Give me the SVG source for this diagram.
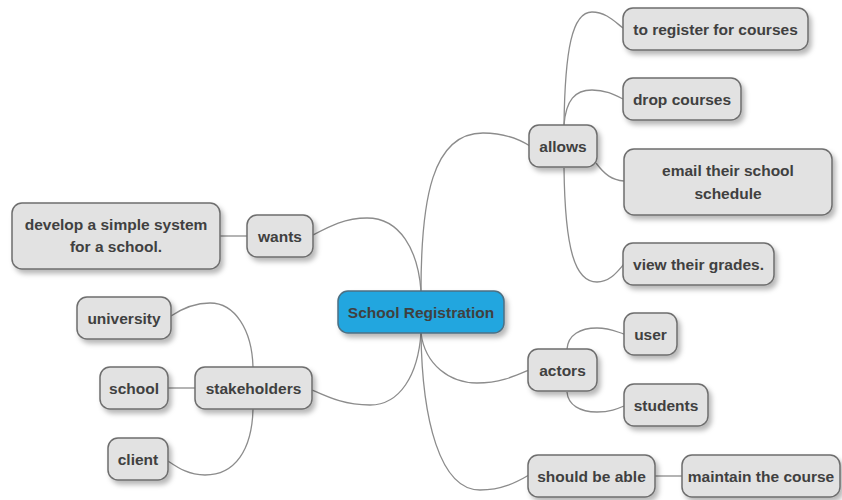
<svg xmlns="http://www.w3.org/2000/svg" width="842" height="500" viewBox="0 0 842 500">
<defs>
<filter id="sh" x="-20%" y="-20%" width="150%" height="160%">
<feDropShadow dx="3" dy="4" stdDeviation="2.5" flood-color="#000" flood-opacity="0.28"/>
</filter>
<style>
.n rect{fill:#e2e2e2;stroke:#6e6e6e;stroke-width:1.5;filter:url(#sh)}
.root rect{fill:#22a6df;stroke:#4d6f82;stroke-width:1.5;filter:url(#sh)}
text{font-family:"Liberation Sans",Arial,Helvetica,sans-serif;font-size:15.5px;font-weight:bold;fill:#404040;text-anchor:middle}
#links path,#links line{fill:none;stroke:#8c8c8c;stroke-width:1.3}
</style>
</defs>
<rect width="842" height="500" fill="#ffffff"/>
<g id="links">
<path d="M421,291 C421,200 432,133 483,133 C505,133 519,139 530,146"/>
<path d="M421,291 C418,250 400,218 367,218 C345,218 330,226 313,235"/>
<path d="M421,333 C418,375 400,405 370,405 C345,405 330,398 312,390"/>
<path d="M421,333 C425,365 450,383 477,383 C500,383 515,376 529,370"/>
<path d="M421,333 C422,420 440,490 480,490 C502,490 517,482 529,475"/>
<path d="M564,125 C565,50 572,12 592,12 C606,12 615,22 623,28"/>
<path d="M564,125 C566,100 575,90 592,90 C606,90 615,95 623,99"/>
<path d="M596,163 C605,175 612,180 624,181"/>
<path d="M564,168 C565,250 575,282 597,282 C610,282 617,272 624,264"/>
<path d="M567,349 C568,335 580,328 597,328 C610,328 617,332 624,334"/>
<path d="M567,392 C568,405 580,412 597,412 C610,412 617,409 624,406"/>
<line x1="655" y1="476" x2="682" y2="476"/>
<path d="M253,367 C252,330 235,303 210,303 C192,303 180,310 171,316"/>
<line x1="168" y1="388" x2="195" y2="388"/>
<path d="M253,409 C252,450 235,475 205,475 C188,475 177,467 168,461"/>
<line x1="220" y1="236" x2="247" y2="236"/>
</g>
<g id="root" class="root"><rect x="338" y="291" width="166" height="42" rx="10"/><text x="421" y="317.5">School Registration</text></g>
<g id="allows" class="n"><rect x="529" y="125" width="68" height="42" rx="10"/><text x="563" y="151.5">allows</text></g>
<g id="register" class="n"><rect x="623" y="8" width="185" height="42" rx="10"/><text x="715.5" y="34.5">to register for courses</text></g>
<g id="drop" class="n"><rect x="623" y="78" width="118" height="42" rx="10"/><text x="682" y="104.5">drop courses</text></g>
<g id="email" class="n"><rect x="624" y="149" width="208" height="66" rx="10"/><text x="728" y="175.5">email their school</text><text x="728" y="198.5">schedule</text></g>
<g id="view" class="n"><rect x="623" y="243" width="151" height="42" rx="10"/><text x="698.5" y="269.5">view their grades.</text></g>
<g id="wants" class="n"><rect x="247" y="215" width="66" height="42" rx="10"/><text x="280" y="241.5">wants</text></g>
<g id="develop" class="n"><rect x="12" y="203" width="208" height="66" rx="10"/><text x="116" y="229.5">develop a simple system</text><text x="116" y="251.5">for a school.</text></g>
<g id="stakeholders" class="n"><rect x="195" y="367" width="117" height="42" rx="10"/><text x="253.5" y="393.5">stakeholders</text></g>
<g id="university" class="n"><rect x="77" y="297" width="94" height="42" rx="10"/><text x="124" y="323.5">university</text></g>
<g id="school" class="n"><rect x="100" y="367" width="68" height="42" rx="10"/><text x="134" y="393.5">school</text></g>
<g id="client" class="n"><rect x="108" y="438" width="60" height="42" rx="10"/><text x="138" y="464.5">client</text></g>
<g id="actors" class="n"><rect x="528" y="349" width="69" height="42" rx="10"/><text x="562.5" y="375.5">actors</text></g>
<g id="user" class="n"><rect x="624" y="313" width="53" height="42" rx="10"/><text x="650.5" y="339.5">user</text></g>
<g id="students" class="n"><rect x="624" y="384" width="84" height="42" rx="10"/><text x="666" y="410.5">students</text></g>
<g id="shouldbeable" class="n"><rect x="528" y="455" width="127" height="42" rx="10"/><text x="591.5" y="481.5">should be able</text></g>
<g id="maintain" class="n"><rect x="682" y="455" width="158" height="42" rx="10"/><text x="761" y="481.5">maintain the course</text></g>
</svg>
